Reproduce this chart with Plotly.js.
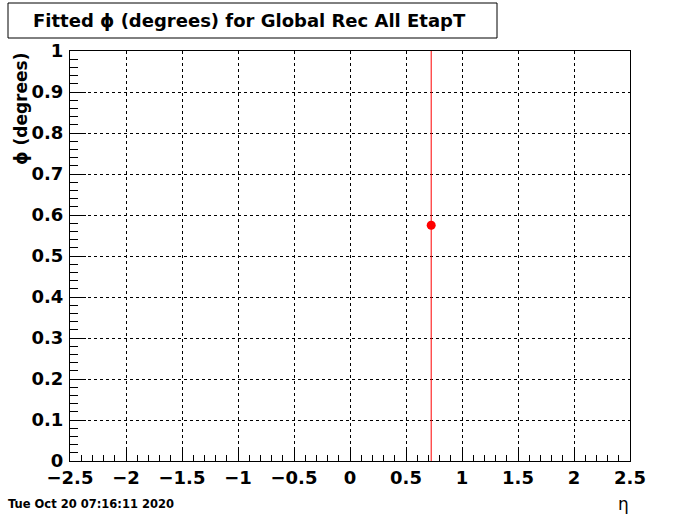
<!DOCTYPE html>
<html>
<head>
<meta charset="utf-8">
<script src="https://cdn.plot.ly/plotly-3.0.1.min.js"></script>
<style>html,body{margin:0;padding:0;background:#fff;}#chart{width:700px;height:514px;}</style>
</head>
<body>
<div id="chart"></div>
<script>
// Data
const etaValues = [0.725];
const phiValues = [0.575];
const phiErrors = [5.0];
const titleText = 'Fitted \u03d5 (degrees) for Global Rec All EtapT';
const xTitle = '\u03b7';
const yTitle = '\u03d5 (degrees)';
const dateText = 'Tue Oct 20 07:16:11 2020';

const fontFam = 'DejaVu Sans, sans-serif';

const trace = {
  x: etaValues, y: phiValues, type: 'scatter', mode: 'markers',
  marker: {color: '#ff0000', size: 9},
  error_y: {type: 'data', array: phiErrors, visible: true, color: '#ff0000', thickness: 1, width: 0},
  showlegend: false, hoverinfo: 'none'
};

const axisCommon = {
  showline: true, linecolor: '#000', linewidth: 1, mirror: true,
  ticks: 'inside', ticklen: 12, tickcolor: '#000', tickwidth: 1,
  showgrid: true, gridcolor: '#000', gridwidth: 1, griddash: 'dot',
  zeroline: false,
  tickfont: {family: fontFam, size: 18, color: '#000', weight: 'bold'},
};

const layout = {
  width: 700, height: 514,
  margin: {l: 70, r: 70, t: 51, b: 53},
  paper_bgcolor: '#fff', plot_bgcolor: '#fff',
  xaxis: Object.assign({}, axisCommon, {
    range: [-2.5, 2.5], dtick: 0.5, tick0: -2.5,
    minor: {dtick: 0.1, ticks: 'inside', ticklen: 6, tickcolor: '#000', showgrid: false},
  }),
  yaxis: Object.assign({}, axisCommon, {
    range: [0, 1], dtick: 0.1, tick0: 0, ticklen: 16, ticklabelstandoff: 2,
    minor: {dtick: 0.02, ticks: 'inside', ticklen: 8, tickcolor: '#000', showgrid: false},
  }),
  shapes: [
    {type: 'rect', xref: 'paper', yref: 'paper', x0: -62/560, x1: 427/560, y0: 1 + 13/410, y1: 1 + 48/410,
     line: {color: '#000', width: 1}, fillcolor: '#fff'}
  ],
  annotations: [
    {text: '<b>' + titleText + '</b>', xref: 'paper', yref: 'paper', x: 179/560, y: 1 + 30/410,
     xanchor: 'center', yanchor: 'middle', showarrow: false,
     font: {family: fontFam, size: 18, color: '#000'}},
    {text: '<b>' + yTitle + '</b>', xref: 'paper', yref: 'paper', x: -49/560, y: 1,
     xanchor: 'center', yanchor: 'top', textangle: -90, showarrow: false,
     font: {family: fontFam, size: 17, color: '#000'}},
    {text: xTitle, xref: 'paper', yref: 'paper', x: 1 - 7/560, y: -43/410,
     xanchor: 'center', yanchor: 'middle', showarrow: false,
     font: {family: fontFam, size: 17, color: '#000'}},
    {text: '<b>' + dateText + '</b>', xref: 'paper', yref: 'paper', x: -64/560, y: -43/410,
     xanchor: 'left', yanchor: 'middle', showarrow: false,
     font: {family: fontFam, size: 11.5, color: '#000'}}
  ]
};

Plotly.newPlot('chart', [trace], layout, {staticPlot: true});
</script>
</body>
</html>
